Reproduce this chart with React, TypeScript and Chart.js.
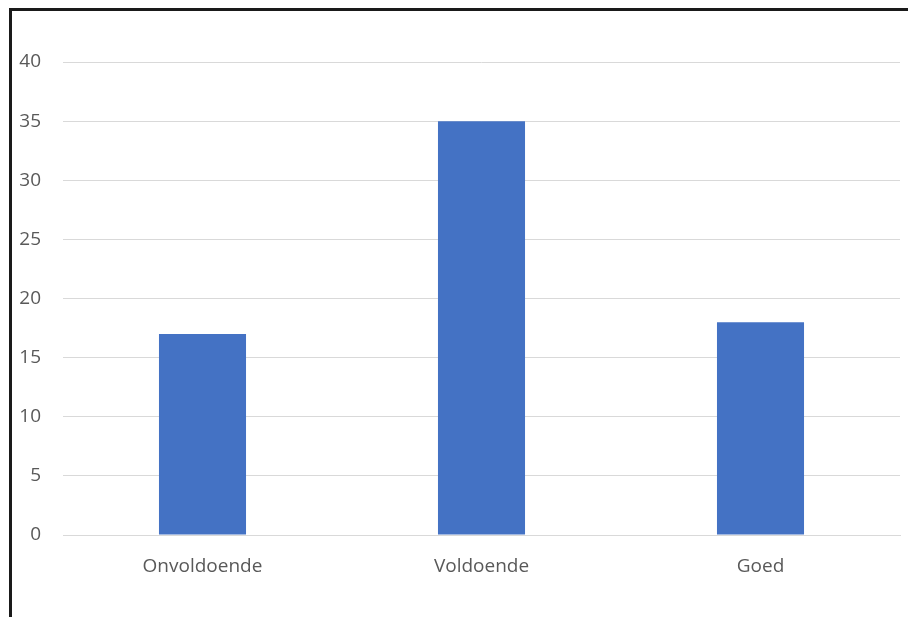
import React, { useEffect, useRef } from "react";
import { Chart, registerables } from "chart.js";

Chart.register(...registerables);

const categories = ["Onvoldoende", "Voldoende", "Goed"];
const values = [17, 35, 18];
const yMin = 0;
const yMax = 40;
const yStep = 5;

export default function App() {
  const ref = useRef<HTMLCanvasElement | null>(null);
  useEffect(() => {
    if (!ref.current) return;
    const font = { family: "'Open Sans', 'Liberation Sans', sans-serif", size: 19 };
    const chart = new Chart(ref.current, {
      type: "bar",
      data: {
        labels: categories,
        datasets: [
          {
            data: values,
            backgroundColor: "#4472C4",
            borderWidth: 0,
            categoryPercentage: 1,
            barPercentage: 0.312,
          },
        ],
      },
      options: {
        animation: false,
        responsive: false,
        maintainAspectRatio: false,
        layout: { padding: { top: 51, right: 8, left: 0, bottom: 0 } },
        plugins: { legend: { display: false }, tooltip: { enabled: false } },
        scales: {
          x: {
            grid: { display: false, drawTicks: false },
            border: { display: true, color: "#d9d9d9", width: 1 },
            ticks: { color: "#595959", font, padding: 20 },
            afterFit: (s: any) => {
              s.height = 82;
            },
          },
          y: {
            min: yMin,
            max: yMax,
            grid: { color: "#d9d9d9", lineWidth: 1, drawTicks: false },
            border: { display: false },
            ticks: { stepSize: yStep, color: "#595959", font, padding: 22 },
            afterFit: (s: any) => {
              s.width = 51;
            },
          },
        },
      },
    });
    return () => chart.destroy();
  }, []);
  return (
    <div
      style={{
        position: "absolute",
        left: 9,
        top: 8,
        width: 899,
        height: 609,
        borderLeft: "3px solid #1a1a1a",
        borderTop: "3px solid #1a1a1a",
        boxSizing: "border-box",
        background: "#fff",
        overflow: "hidden",
      }}
    >
      <canvas ref={ref} width={896} height={606} style={{ display: "block" }} />
    </div>
  );
}
